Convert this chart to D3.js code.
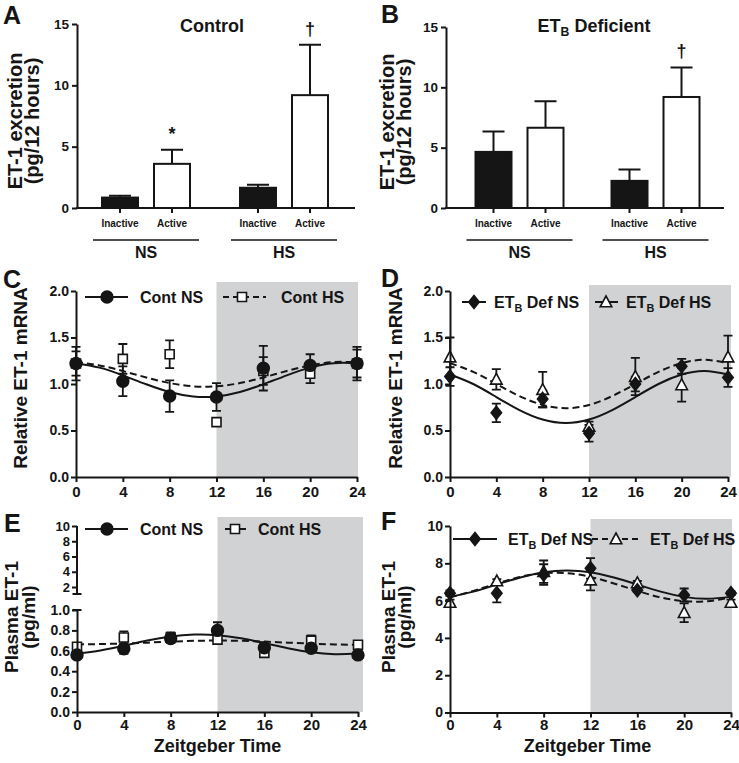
<!DOCTYPE html>
<html><head><meta charset="utf-8">
<script src="https://cdn.jsdelivr.net/npm/d3@7"></script>
<style>
html,body{margin:0;padding:0;background:#fff;}
svg{display:block;}
</style></head><body>
<svg id="fig" width="739" height="763"></svg>
<script>
// ================= DATA =================
const barGroups = ["NS", "HS"];
const barPhases = ["Inactive", "Active"];
const barTicks = [0, 5, 10, 15];
// order: NS-Inactive, NS-Active, HS-Inactive, HS-Active
const controlMean = [0.85, 3.6, 1.65, 9.2];
const controlSem = [0.15, 1.15, 0.25, 4.1];
const controlMarks = ["", "*", "", "†"];
const deficientMean = [4.65, 6.65, 2.25, 9.2];
const deficientSem = [1.7, 2.2, 0.95, 2.45];
const deficientMarks = ["", "", "", "†"];

const zt = [0, 4, 8, 12, 16, 20, 24];
const ztTicks = [0, 4, 8, 12, 16, 20, 24];
const fitTimes = [0, 2, 4, 6, 8, 10, 12, 14, 16, 18, 20, 22, 24];

const mrnaTicks = [0, 0.5, 1.0, 1.5, 2.0];
const mrnaContNS = [1.22, 1.03, 0.87, 0.86, 1.17, 1.20, 1.22];
const mrnaContNSErr = [0.18, 0.16, 0.17, 0.15, 0.24, 0.12, 0.18];
const mrnaContHS = [1.22, 1.27, 1.32, 0.59, 1.14, 1.11, 1.22];
const mrnaContHSErr = [0.13, 0.16, 0.15, 0.02, 0.15, 0.10, 0.15];
const mrnaContNSFit = [1.224, 1.176, 1.093, 0.997, 0.914, 0.866, 0.866, 0.914, 0.997, 1.093, 1.176, 1.224, 1.224];
const mrnaContHSFit = [1.235, 1.20, 1.14, 1.07, 1.01, 0.975, 0.975, 1.01, 1.07, 1.14, 1.20, 1.235, 1.235];

const mrnaDefNS = [1.08, 0.69, 0.84, 0.47, 1.00, 1.19, 1.07];
const mrnaDefNSErr = [0.10, 0.10, 0.09, 0.09, 0.08, 0.08, 0.10];
const mrnaDefHS = [1.29, 1.05, 0.94, 0.545, 1.08, 0.99, 1.29];
const mrnaDefHSErr = [0.21, 0.11, 0.19, 0.05, 0.20, 0.18, 0.23];
const mrnaDefNSFit = [1.102, 1.0, 0.86, 0.72, 0.618, 0.58, 0.618, 0.72, 0.86, 1.0, 1.102, 1.14, 1.102];
const mrnaDefHSFit = [1.225, 1.13, 1.0, 0.87, 0.775, 0.74, 0.775, 0.87, 1.0, 1.13, 1.225, 1.26, 1.225];

const plasmaLowTicks = [0, 0.2, 0.4, 0.6, 0.8, 1.0];
const plasmaHighTicks = [2, 4, 6, 8, 10];
const plasmaContNS = [0.56, 0.62, 0.72, 0.80, 0.63, 0.625, 0.56];
const plasmaContNSErr = [0.02, 0.05, 0.04, 0.08, 0.03, 0.03, 0.02];
const plasmaContHS = [0.64, 0.73, 0.73, 0.71, 0.58, 0.70, 0.66];
const plasmaContHSErr = [0.03, 0.06, 0.05, 0.04, 0.03, 0.05, 0.03];
const plasmaContNSFit = [0.573, 0.604, 0.650, 0.700, 0.740, 0.759, 0.753, 0.722, 0.676, 0.626, 0.586, 0.567, 0.573];
const plasmaContHSFit = [0.662, 0.666, 0.672, 0.680, 0.690, 0.698, 0.700, 0.698, 0.690, 0.680, 0.670, 0.662, 0.660];

const plasmaDefTicks = [0, 2, 4, 6, 8, 10];
const plasmaDefNS = [6.4, 6.4, 7.4, 7.73, 6.55, 6.3, 6.4];
const plasmaDefNSErr = [0.15, 0.5, 0.55, 0.55, 0.1, 0.35, 0.1];
const plasmaDefHS = [5.9, 7.05, 7.55, 7.1, 6.95, 5.35, 5.9];
const plasmaDefHSErr = [0.15, 0.1, 0.6, 0.55, 0.1, 0.5, 0.15];
const plasmaDefNSFit = [6.20, 6.48, 6.86, 7.24, 7.52, 7.62, 7.52, 7.24, 6.86, 6.48, 6.20, 6.10, 6.20];
const plasmaDefHSFit = [6.17, 6.52, 6.92, 7.27, 7.47, 7.47, 7.27, 6.92, 6.52, 6.17, 5.97, 5.97, 6.17];

// ================= DRAWING =================
const FONT = '"Liberation Sans", Arial, Helvetica, sans-serif';
const INK = "#151515";
const SHADE = "#d1d2d4";
const svg = d3.select("#fig").attr("font-family", FONT).attr("font-weight", "bold");
svg.append("rect").attr("width", 739).attr("height", 763).attr("fill", "#fff");

function styleAxis(g, fs) {
  g.attr("font-family", FONT).attr("font-size", fs).attr("font-weight", "bold");
  g.selectAll("path, line").attr("stroke", INK).attr("stroke-width", 2);
  g.selectAll("text").attr("fill", INK);
}

function richText(parent, x, y, parts, size, anchor) {
  const t = parent.append("text").attr("x", x).attr("y", y)
    .attr("font-size", size).attr("fill", INK).attr("text-anchor", anchor || "start");
  let shifted = false;
  parts.forEach(p => {
    const s = t.append("tspan").text(p.t);
    if (p.sub) { s.attr("font-size", size * 0.68).attr("dy", 4); shifted = true; }
    else if (shifted) { s.attr("dy", -4); shifted = false; }
  });
  return t;
}

function yTitle(x, cy, lines, size) {
  lines.forEach((ln, i) => {
    svg.append("text").attr("transform", `translate(${x[i]},${cy}) rotate(-90)`)
      .attr("text-anchor", "middle").attr("font-size", size).attr("fill", INK).text(ln);
  });
}

function panelLetter(ch, x, y) {
  svg.append("text").attr("x", x).attr("y", y).attr("font-size", 25).attr("fill", INK).text(ch);
}

const markerPaths = {
  circle: d3.symbol(d3.symbolCircle, 110)(),
  square: d3.symbol(d3.symbolSquare, 81)(),
  diamond: "M0,-6.5L5.2,0L0,6.5L-5.2,0Z",
  triangle: "M0,-6L5.8,4.8L-5.8,4.8Z"
};
const markerFill = { circle: INK, square: "#fff", diamond: INK, triangle: "#fff" };

function drawMarker(g, type, x, y) {
  g.append("path").attr("d", markerPaths[type]).attr("transform", `translate(${x},${y})`)
    .attr("fill", markerFill[type]).attr("stroke", INK).attr("stroke-width", 1.6);
}

// ---------- bar panels ----------
function barPanel(cfg) {
  const g = svg.append("g");
  const y = d3.scaleLinear().domain([0, 15]).range([cfg.yBot, cfg.yTop]);
  const gx = d3.scalePoint().domain(barGroups).range(cfg.groupRange);
  const px = d3.scalePoint().domain(barPhases).range([-26, 26]);
  const rows = cfg.means.map((m, i) => ({
    group: barGroups[Math.floor(i / 2)], phase: barPhases[i % 2],
    mean: m, sem: cfg.sems[i], mark: cfg.marks[i]
  }));
  const cx = d => gx(d.group) + px(d.phase);

  g.selectAll("path.eb").data(rows).join("path").attr("class", "eb")
    .attr("d", d => `M${cx(d)},${y(d.mean)}V${y(d.mean + d.sem)}M${cx(d) - 11},${y(d.mean + d.sem)}H${cx(d) + 11}`)
    .attr("stroke", INK).attr("stroke-width", 2).attr("fill", "none");
  g.selectAll("rect.bar").data(rows).join("rect").attr("class", "bar")
    .attr("x", d => cx(d) - 18).attr("width", 36)
    .attr("y", d => y(d.mean)).attr("height", d => y(0) - y(d.mean))
    .attr("fill", d => d.phase === "Inactive" ? INK : "#fff")
    .attr("stroke", INK).attr("stroke-width", 2);

  g.append("g").attr("transform", `translate(${cfg.x0},0)`)
    .call(d3.axisLeft(y).tickValues(barTicks).tickSize(5).tickSizeOuter(0).tickPadding(3))
    .call(a => styleAxis(a, 13.5));
  g.append("line").attr("x1", cfg.x0 - 1).attr("x2", cfg.x1).attr("y1", y(0)).attr("y2", y(0))
    .attr("stroke", INK).attr("stroke-width", 2);
  g.selectAll("line.xt").data(rows).join("line").attr("class", "xt")
    .attr("x1", cx).attr("x2", cx).attr("y1", y(0)).attr("y2", y(0) + 5)
    .attr("stroke", INK).attr("stroke-width", 2);
  g.selectAll("text.ph").data(rows).join("text").attr("class", "ph")
    .attr("x", cx).attr("y", y(0) + 19).attr("text-anchor", "middle")
    .attr("font-size", 10).attr("fill", INK).text(d => d.phase);
  barGroups.forEach(grp => {
    const c = gx(grp);
    g.append("line").attr("x1", c - 53).attr("x2", c + 53).attr("y1", y(0) + 32).attr("y2", y(0) + 32)
      .attr("stroke", INK).attr("stroke-width", 1.5);
    g.append("text").attr("x", c).attr("y", y(0) + 50).attr("text-anchor", "middle")
      .attr("font-size", 16).attr("fill", INK).text(grp);
  });
  g.selectAll("text.mk").data(rows.filter(d => d.mark)).join("text").attr("class", "mk")
    .attr("x", cx).attr("y", d => y(d.mean + d.sem) - 10).attr("text-anchor", "middle")
    .attr("font-size", 18).attr("fill", INK).text(d => d.mark);
  richText(g, cfg.titleX, 32, cfg.title, 18, "middle");
}

barPanel({ x0: 77, x1: 355, yTop: 24, yBot: 208, groupRange: [146, 284],
  means: controlMean, sems: controlSem, marks: controlMarks,
  title: [{ t: "Control" }], titleX: 212 });
barPanel({ x0: 446, x1: 724, yTop: 27, yBot: 208, groupRange: [519.5, 655.5],
  means: deficientMean, sems: deficientSem, marks: deficientMarks,
  title: [{ t: "ET" }, { t: "B", sub: true }, { t: " Deficient" }], titleX: 594 });

// ---------- line panels ----------
function linePanel(cfg) {
  const g = svg.append("g");
  const x = d3.scaleLinear().domain([0, 24]).range([cfg.x0, cfg.x1]);
  const y = cfg.y;
  const y0 = y(0);
  g.append("rect").attr("x", x(12)).attr("y", cfg.shadeTop)
    .attr("width", cfg.shadeRight - x(12)).attr("height", y0 - cfg.shadeTop).attr("fill", SHADE);

  const fitLine = vals => d3.line().x((d, i) => x(fitTimes[i])).y(d => y(d)).curve(d3.curveNatural)(vals);
  cfg.series.forEach(s => {
    g.append("path").attr("d", fitLine(s.fit)).attr("fill", "none").attr("stroke", INK)
      .attr("stroke-width", 2).attr("stroke-dasharray", s.dashed ? "7,4" : null);
  });
  // HS first, NS on top
  [...cfg.series].reverse().forEach(s => {
    s.mean.forEach((m, i) => {
      const xx = x(zt[i]), lo = y(m - s.err[i]), hi = y(m + s.err[i]);
      g.append("path").attr("d", `M${xx},${lo}V${hi}M${xx - 4.5},${hi}H${xx + 4.5}M${xx - 4.5},${lo}H${xx + 4.5}`)
        .attr("stroke", INK).attr("stroke-width", 1.8).attr("fill", "none");
    });
  });
  [...cfg.series].reverse().forEach(s => {
    s.mean.forEach((m, i) => drawMarker(g, s.marker, x(zt[i]), y(m)));
  });

  // x axis
  g.append("g").attr("transform", `translate(0,${y0})`)
    .call(d3.axisBottom(x).tickValues(ztTicks).tickSize(5).tickSizeOuter(0).tickPadding(cfg.xPad))
    .call(a => styleAxis(a, 15));
  cfg.yAxis(g, x);

  // legend
  cfg.legend.forEach(it => {
    g.append("line").attr("x1", it.x1).attr("x2", it.x2).attr("y1", cfg.legendY).attr("y2", cfg.legendY)
      .attr("stroke", INK).attr("stroke-width", 2).attr("stroke-dasharray", it.dashed ? "6,4" : null);
    drawMarker(g, it.marker, it.mx, cfg.legendY);
    richText(g, it.tx, cfg.legendY + 6, it.label, 16, "start");
  });
  if (cfg.xTitle) {
    g.append("text").attr("x", x(12) + cfg.xTitleDx).attr("y", 752).attr("text-anchor", "middle")
      .attr("font-size", 18).attr("fill", INK).text("Zeitgeber Time");
  }
}

function simpleYAxis(x0, y, ticks, fmt) {
  return (g) => {
    g.append("g").attr("transform", `translate(${x0},0)`)
      .call(d3.axisLeft(y).tickValues(ticks).tickSize(5).tickSizeOuter(0).tickPadding(2).tickFormat(d3.format(fmt)))
      .call(a => styleAxis(a, 14));
  };
}

// C
const yC = d3.scaleLinear().domain([0, 2]).range([477, 291]);
linePanel({
  x0: 76, x1: 357, y: yC, shadeTop: 282, shadeRight: 358, xPad: 4,
  series: [
    { mean: mrnaContNS, err: mrnaContNSErr, fit: mrnaContNSFit, marker: "circle", dashed: false },
    { mean: mrnaContHS, err: mrnaContHSErr, fit: mrnaContHSFit, marker: "square", dashed: true }
  ],
  yAxis: simpleYAxis(76, yC, mrnaTicks, ".1f"),
  legendY: 297,
  legend: [
    { x1: 85, x2: 128, mx: 107, tx: 140, marker: "circle", dashed: false, label: [{ t: "Cont NS" }] },
    { x1: 223, x2: 266, mx: 242, tx: 281, marker: "square", dashed: true, label: [{ t: "Cont HS" }] }
  ]
});

// D
const yD = d3.scaleLinear().domain([0, 2]).range([477, 291]);
linePanel({
  x0: 450, x1: 728, y: yD, shadeTop: 285, shadeRight: 731, xPad: 4,
  series: [
    { mean: mrnaDefNS, err: mrnaDefNSErr, fit: mrnaDefNSFit, marker: "diamond", dashed: false },
    { mean: mrnaDefHS, err: mrnaDefHSErr, fit: mrnaDefHSFit, marker: "triangle", dashed: true }
  ],
  yAxis: simpleYAxis(450, yD, mrnaTicks, ".1f"),
  legendY: 302,
  legend: [
    { x1: 462, x2: 486, mx: 474, tx: 494, marker: "diamond", dashed: false,
      label: [{ t: "ET" }, { t: "B", sub: true }, { t: " Def NS" }] },
    { x1: 595, x2: 618, mx: 606, tx: 626, marker: "triangle", dashed: false,
      label: [{ t: "ET" }, { t: "B", sub: true }, { t: " Def HS" }] }
  ]
});

// E (broken axis)
const yELow = d3.scaleLinear().domain([0, 1]).range([712, 610]);
const yEHigh = d3.scaleLinear().domain([2, 10]).range([587, 526]);
linePanel({
  x0: 77, x1: 358, y: yELow, shadeTop: 517, shadeRight: 363, xPad: 2,
  series: [
    { mean: plasmaContNS, err: plasmaContNSErr, fit: plasmaContNSFit, marker: "circle", dashed: false },
    { mean: plasmaContHS, err: plasmaContHSErr, fit: plasmaContHSFit, marker: "square", dashed: true }
  ],
  yAxis: (g) => {
    g.append("g").attr("transform", "translate(77,0)")
      .call(d3.axisLeft(yELow).tickValues(plasmaLowTicks).tickSize(5).tickSizeOuter(0).tickPadding(2).tickFormat(d3.format(".1f")))
      .call(a => styleAxis(a, 14));
    const high = g.append("g").attr("transform", "translate(77,0)")
      .call(d3.axisLeft(yEHigh).tickValues(plasmaHighTicks).tickSize(5).tickSizeOuter(0).tickPadding(2).tickFormat(d3.format("d")))
      .call(a => styleAxis(a, 13));
    high.select(".domain").remove();
    const bottomHigh = yEHigh(2) + 7;
    g.append("path").attr("d", `M77,${yEHigh(10)}V${bottomHigh}M72.5,${bottomHigh}H81.5M72.5,${yELow(1)}H81.5`)
      .attr("stroke", INK).attr("stroke-width", 2).attr("fill", "none");
  },
  legendY: 529,
  legend: [
    { x1: 85, x2: 128, mx: 107, tx: 140, marker: "circle", dashed: false, label: [{ t: "Cont NS" }] },
    { x1: 225, x2: 246, mx: 235, tx: 258, marker: "square", dashed: false, label: [{ t: "Cont HS" }] }
  ],
  xTitle: true, xTitleDx: 0
});

// F
const yF = d3.scaleLinear().domain([0, 10]).range([712.5, 526]);
linePanel({
  x0: 450, x1: 731, y: yF, shadeTop: 519, shadeRight: 732, xPad: 2,
  series: [
    { mean: plasmaDefNS, err: plasmaDefNSErr, fit: plasmaDefNSFit, marker: "diamond", dashed: false },
    { mean: plasmaDefHS, err: plasmaDefHSErr, fit: plasmaDefHSFit, marker: "triangle", dashed: true }
  ],
  yAxis: simpleYAxis(450, yF, plasmaDefTicks, "d"),
  legendY: 539,
  legend: [
    { x1: 453, x2: 497, mx: 475, tx: 508, marker: "diamond", dashed: false,
      label: [{ t: "ET" }, { t: "B", sub: true }, { t: " Def NS" }] },
    { x1: 592, x2: 642, mx: 616, tx: 650, marker: "triangle", dashed: true,
      label: [{ t: "ET" }, { t: "B", sub: true }, { t: " Def HS" }] }
  ],
  xTitle: true, xTitleDx: -3
});

// axis titles
yTitle([22, 39], 121, ["ET-1 excretion", "(pg/12 hours)"], 20);
yTitle([394, 411], 122, ["ET-1 excretion", "(pg/12 hours)"], 20);
yTitle([27], 378, ["Relative ET-1 mRNA"], 19);
yTitle([402], 378, ["Relative ET-1 mRNA"], 19);
yTitle([18, 35], 617, ["Plasma ET-1", "(pg/ml)"], 19);
yTitle([395, 411], 617, ["Plasma ET-1", "(pg/ml)"], 19);

// panel letters
panelLetter("A", 3, 24);
panelLetter("B", 381, 23);
panelLetter("C", 3, 288);
panelLetter("D", 381, 287);
panelLetter("E", 4, 532);
panelLetter("F", 381, 530);
</script>
</body></html>
